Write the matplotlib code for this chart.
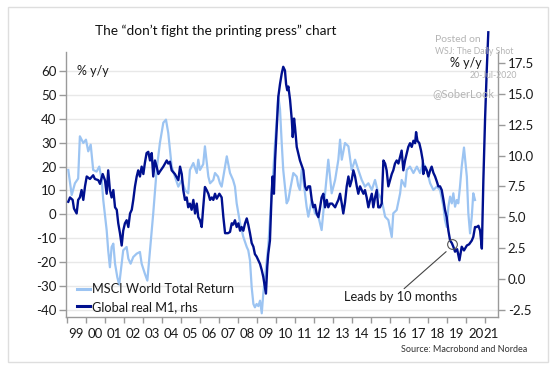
import matplotlib
matplotlib.use("Agg")
import matplotlib.pyplot as plt
from matplotlib.patches import Rectangle
from matplotlib.lines import Line2D

plt.rcParams['font.family'] = ['Lato', 'DejaVu Sans']

# ---------------- data ----------------
msci_t = [
    1999.07, 1999.25, 1999.42, 1999.59, 1999.68, 1999.86, 2000.00, 2000.12, 2000.25, 2000.38,
    2000.56, 2000.70, 2000.83, 2000.91, 2001.09, 2001.17, 2001.26, 2001.35, 2001.44, 2001.53,
    2001.65, 2001.75, 2001.88, 2001.96, 2002.14, 2002.23, 2002.35, 2002.49, 2002.67, 2002.84,
    2002.93, 2003.10, 2003.23, 2003.37, 2003.54, 2003.72, 2003.89, 2004.07, 2004.21, 2004.33,
    2004.51, 2004.68, 2004.86, 2005.04, 2005.21, 2005.38, 2005.47, 2005.65, 2005.83, 2005.91,
    2006.00, 2006.17, 2006.26, 2006.44, 2006.53, 2006.70, 2006.79, 2006.95, 2007.05, 2007.14,
    2007.32, 2007.41, 2007.58, 2007.74, 2007.84, 2007.93, 2008.02, 2008.11, 2008.28, 2008.46,
    2008.54, 2008.63, 2008.72, 2008.81, 2008.89, 2008.98, 2009.07, 2009.16, 2009.25, 2009.33,
    2009.42, 2009.51, 2009.59, 2009.68, 2009.77, 2009.86, 2009.95, 2010.04, 2010.12, 2010.21,
    2010.30, 2010.38, 2010.47, 2010.56, 2010.65, 2010.74, 2010.91, 2011.09, 2011.17, 2011.26,
    2011.35, 2011.44, 2011.61, 2011.70, 2011.88, 2012.05, 2012.23, 2012.40, 2012.58, 2012.75,
    2012.84, 2012.93, 2013.11, 2013.28, 2013.37, 2013.46, 2013.63, 2013.81, 2013.98, 2014.16,
    2014.33, 2014.51, 2014.68, 2014.86, 2015.04, 2015.21, 2015.38, 2015.56, 2015.74, 2015.91,
    2016.09, 2016.17, 2016.35, 2016.53, 2016.61, 2016.79, 2016.88, 2017.05, 2017.23, 2017.41,
    2017.58, 2017.75, 2017.93, 2018.11, 2018.28, 2018.46, 2018.63, 2018.81, 2018.89, 2018.98,
    2019.07, 2019.16, 2019.25, 2019.33, 2019.42, 2019.51, 2019.59, 2019.68, 2019.77, 2019.89,
    2020.04, 2020.12, 2020.21, 2020.30, 2020.38, 2020.47]
msci_v = [
    18.6, 8.1, 13, 15, 32.7, 29.9, 31.3, 26.4, 29.2, 18.6,
    17.9, 20, 14.4, 6, -6.7, -15.1, -22.2, -13.7, -12.3, -20.7,
    -26.4, -29.5, -20.7, -15.1, -13.7, -18.6, -20.7, -17.9, -16.5, -15.8,
    -20.7, -24.9, -27.8, -15.1, 0.4, 18.6, 29.9, 38.4, 39.7, 34.1,
    20, 15.8, 11.6, 14.4, 10.2, 8.8, 18.6, 21.5, 17.3, 22.9,
    18.6, 21, 28.5, 15.8, 13, 14.4, 17.3, 15.8, 13, 11.6,
    20, 24.3, 17.3, 14.4, 11.6, 4.6, 0.4, -3.8, -9.5, -13.7,
    -15.1, -19.3, -30.6, -37.6, -39, -37.6, -38.5, -36.2, -41.5, -33.3,
    -26.4, -19.3, -13.7, -2.4, 8.8, 18.6, 29.9, 39.7, 49.6, 44,
    29.9, 18.6, 11.6, 4.6, 6, 10.2, 17.3, 15.8, 12, 10.2,
    18.6, 14.4, 3.2, -1, 6, 0.4, -1, -6.6, 8.8, 22.9,
    15.8, 8.8, 14.4, 22.9, 31.3, 22.9, 29.9, 28.5, 18.6, 22.9,
    18.6, 14.4, 11.6, 13, 10.2, 14.4, 8.8, 6, -1, -2.4,
    -9.5, 0.4, 1.8, 8.8, 14.4, 11.6, 18.6, 20, 17.3, 20,
    17.3, 21.5, 18.6, 13, 10.2, 11.6, 10.2, 3.2, -2.4, -5.3,
    3.2, 7.4, 4.6, 8.8, 3.2, 6, 4.6, 11.6, 20, 28,
    15.8, 0.4, -8, -1, 8.8, 6]

m1_t = [
    1999.07, 1999.16, 1999.30, 1999.37, 1999.51, 1999.59, 1999.68, 1999.77, 1999.86, 1999.95,
    2000.04, 2000.21, 2000.38, 2000.47, 2000.65, 2000.74, 2000.88, 2001.00, 2001.09, 2001.17,
    2001.26, 2001.35, 2001.44, 2001.53, 2001.62, 2001.70, 2001.79, 2001.88, 2001.96, 2002.05,
    2002.14, 2002.23, 2002.32, 2002.41, 2002.49, 2002.58, 2002.67, 2002.75, 2002.84, 2002.93,
    2003.02, 2003.10, 2003.19, 2003.28, 2003.37, 2003.46, 2003.54, 2003.63, 2003.72, 2003.81,
    2003.89, 2004.07, 2004.25, 2004.33, 2004.42, 2004.51, 2004.68, 2004.86, 2004.95, 2005.04,
    2005.12, 2005.21, 2005.30, 2005.38, 2005.47, 2005.56, 2005.65, 2005.74, 2005.83, 2005.91,
    2006.00, 2006.09, 2006.17, 2006.26, 2006.35, 2006.44, 2006.53, 2006.62, 2006.70, 2006.79,
    2006.88, 2007.02, 2007.14, 2007.23, 2007.32, 2007.47, 2007.58, 2007.67, 2007.75, 2007.84,
    2007.93, 2008.02, 2008.11, 2008.19, 2008.28, 2008.37, 2008.46, 2008.54, 2008.63, 2008.72,
    2008.81, 2008.89, 2008.98, 2009.07, 2009.16, 2009.25, 2009.33, 2009.42, 2009.47, 2009.54,
    2009.59, 2009.68, 2009.77, 2009.82, 2009.89, 2009.95, 2010.04, 2010.12, 2010.21, 2010.30,
    2010.38, 2010.47, 2010.53, 2010.59, 2010.65, 2010.74, 2010.83, 2010.88, 2010.95, 2011.00,
    2011.09, 2011.17, 2011.26, 2011.44, 2011.53, 2011.61, 2011.70, 2011.79, 2011.88, 2011.96,
    2012.05, 2012.14, 2012.23, 2012.32, 2012.40, 2012.49, 2012.58, 2012.67, 2012.75, 2012.84,
    2012.95, 2013.11, 2013.19, 2013.28, 2013.37, 2013.46, 2013.54, 2013.63, 2013.72, 2013.81,
    2013.89, 2013.98, 2014.07, 2014.16, 2014.25, 2014.33, 2014.42, 2014.51, 2014.60, 2014.68,
    2014.77, 2014.86, 2014.95, 2015.04, 2015.12, 2015.21, 2015.30, 2015.38, 2015.47, 2015.56,
    2015.65, 2015.74, 2015.82, 2015.91, 2016.00, 2016.09, 2016.17, 2016.26, 2016.35, 2016.44,
    2016.53, 2016.61, 2016.70, 2016.79, 2016.88, 2016.96, 2017.05, 2017.14, 2017.23, 2017.32,
    2017.37, 2017.44, 2017.54, 2017.63, 2017.72, 2017.75, 2017.84, 2017.93, 2018.02, 2018.11,
    2018.19, 2018.28, 2018.37, 2018.46, 2018.54, 2018.63, 2018.72, 2018.81, 2018.89, 2018.98,
    2019.07, 2019.16, 2019.25, 2019.33, 2019.42, 2019.53, 2019.65, 2019.77, 2019.89, 2020.04,
    2020.16, 2020.30, 2020.38, 2020.47, 2020.56, 2020.65, 2020.74, 2020.83, 2020.91, 2021.00,
    2021.09, 2021.17]
m1_v = [
    6.25, 6.6, 6.4, 5.7, 5.3, 6.4, 6.6, 7.2, 6.4, 7.5,
    8.3, 8.1, 8.4, 8.1, 8.0, 7.7, 8.5, 8.0, 6.9, 8.8,
    7.2, 6.6, 7.2, 5.8, 5.6, 4.5, 3.7, 2.7, 3.9, 4.5,
    4.75, 4.2, 5.3, 5.6, 6.4, 7.5, 8.3, 8.8, 8.3, 9.1,
    8.5, 9.4, 10.2, 10.3, 9.6, 10.2, 8.3, 9.6, 9.1, 8.5,
    8.7, 9.1, 9.6, 9.35, 9.5, 8.8, 8.5, 8.0, 9.1, 8.5,
    7.2, 6.4, 6.6, 5.8, 6.1, 5.6, 6.4, 5.3, 6.1, 5.0,
    4.75, 4.2, 5.8, 7.45, 7.2, 6.9, 6.4, 6.6, 6.4, 6.9,
    6.5, 6.9, 6.6, 5.0, 3.7, 3.7, 3.8, 4.5, 4.4, 4.75,
    4.2, 4.5, 3.9, 4.2, 3.9, 4.5, 4.9, 4.4, 3.7, 2.9,
    2.6, 2.0, 1.8, 1.5, 1.2, 0.7, 0.15, -0.7, -1.2, 1.0,
    2.0, 3.1, 6.9, 8.3, 6.9, 9.6, 12.3, 14.75, 15.8, 16.65,
    17.2, 16.9, 15.8, 15.3, 15.6, 14.5, 12.9, 11.5, 13.0, 12.3,
    10.7, 10.2, 9.6, 8.8, 7.5, 7.2, 7.5, 7.5, 6.4, 5.8,
    6.0, 5.3, 5.0, 5.8, 6.6, 6.9, 5.8, 6.4, 5.8, 6.1,
    6.1, 5.8, 6.1, 6.4, 6.9, 6.1, 5.3, 6.2, 7.5, 8.3,
    7.5, 8.0, 8.8, 8.3, 7.5, 6.9, 7.5, 7.2, 6.9, 7.2,
    6.6, 5.8, 6.4, 6.9, 5.8, 6.6, 7.2, 5.8, 5.8, 6.1,
    9.6, 9.35, 8.8, 7.5, 8.0, 8.5, 8.8, 9.35, 9.6, 9.35,
    9.9, 10.4, 8.8, 9.6, 10.2, 10.7, 11.0, 10.7, 11.2, 11.0,
    11.9, 11.2, 11.0, 10.4, 9.6, 8.5, 9.1, 8.8, 8.3, 8.8,
    9.1, 8.6, 8.3, 7.9, 7.5, 7.5, 7.2, 6.4, 5.6, 5.0,
    3.9, 3.1, 2.9, 2.6, 2.2, 2.4, 1.5, 2.6, 2.3, 2.7,
    2.8, 3.1, 3.4, 4.2, 4.2, 4.3, 3.9, 2.45, 8.0, 13.0,
    17.0, 20.0]

years = list(range(1999, 2022))
year_labels = ['99', '00', '01', '02', '03', '04', '05', '06', '07', '08', '09', '10',
               '11', '12', '13', '14', '15', '16', '17', '18', '19', '20', '21']
left_ticks = [60, 50, 40, 30, 20, 10, 0, -10, -20, -30, -40]
right_ticks = [17.5, 15.0, 12.5, 10.0, 7.5, 5.0, 2.5, 0.0, -2.5]

series_names = ['MSCI World Total Return', 'Global real M1, rhs']
annot_point = (2019.26, 2.8)
annot_text_pos = (2016.58, -1.5)

# ---------------- styling ----------------
LIGHT = '#9cc4f2'
NAVY = '#00108f'
SPINE = '#9a9a9a'
GRID = '#e8e8e8'
TXT = '#1a1a1a'

W, H = 559, 368
fig = plt.figure(figsize=(W / 100, H / 100), dpi=100)
fig.patch.set_facecolor('white')

# outer frame
fig.patches.append(Rectangle((8 / W, 1 - 362 / H), (548 - 8) / W, (362 - 7) / H,
                             transform=fig.transFigure, fill=False,
                             ec='#dedede', lw=1.0))

ax_l, ax_r, ax_b, ax_t = 66, 498, 317, 52
ax1 = fig.add_axes([ax_l / W, 1 - ax_b / H, (ax_r - ax_l) / W, (ax_b - ax_t) / H])
ax2 = ax1.twinx()

xmin, xmax = 1998.95, 2021.68
ax1.set_xlim(xmin, xmax)
ax1.set_ylim(-43.06, 68.05)
ax2.set_ylim(-3.1, 18.4)

ax1.plot(msci_t, msci_v, color=LIGHT, lw=1.6, solid_joinstyle='round', zorder=3)
ax2.plot(m1_t, m1_v, color=NAVY, lw=1.7, solid_joinstyle='round', zorder=4,
         clip_on=False)
ax2.set_ylim(-3.1, 18.4)

# grid from left axis
ax1.set_yticks(left_ticks)
ax1.set_yticklabels([str(v) for v in left_ticks])
ax1.yaxis.grid(True, color=GRID, lw=1.0)
ax1.set_axisbelow(True)
ax2.set_yticks(right_ticks)
ax2.set_yticklabels([f'{v:.1f}' for v in right_ticks])

# x ticks: marks at year boundaries, labels centred in year intervals
ax1.set_xticks(years)
ax1.set_xticklabels([''] * len(years))
mids = [(max(y, xmin) + min(y + 1, xmax)) / 2 for y in years]
ax1.set_xticks(mids, minor=True)
ax1.set_xticklabels(year_labels, minor=True)
ax1.tick_params(axis='x', which='minor', length=0, pad=8, labelsize=9.5, colors=TXT)
ax1.tick_params(axis='x', which='major', length=4, width=1, color=SPINE)

for a in (ax1, ax2):
    for s in a.spines.values():
        s.set_color(SPINE)
        s.set_linewidth(1.0)
    a.spines['top'].set_visible(False)
ax1.spines['right'].set_visible(False)
ax2.spines['left'].set_visible(False)
ax2.spines['bottom'].set_visible(False)

ax1.tick_params(axis='y', length=5, width=1, color=SPINE, labelsize=9.5,
                labelcolor=TXT, pad=2)
ax2.tick_params(axis='y', length=5, width=1, color=SPINE, labelsize=9.5,
                labelcolor=TXT, pad=2)

# unit labels
ax1.text(0.025, 60, '% y/y', transform=ax1.get_yaxis_transform(),
         fontsize=9, color=TXT, va='center', ha='left')
ax2.text(0.963, 17.5, '% y/y', transform=ax2.get_yaxis_transform(),
         fontsize=9, color=TXT, va='center', ha='right', zorder=6)

# legend
handles = [Line2D([], [], color=LIGHT, lw=2.2), Line2D([], [], color=NAVY, lw=2.2)]
fig.legend(handles, series_names, loc='upper left',
           bbox_to_anchor=(77 / W, 1 - 283 / H), frameon=False, fontsize=9.2,
           handlelength=1.0, handletextpad=0.15, labelspacing=0.45,
           borderpad=0, borderaxespad=0, labelcolor=TXT)

# annotation
ax2.plot([annot_point[0]], [annot_point[1]], marker='o', ms=7, mfc='none',
         mec='#555555', mew=0.8, zorder=5)
ax2.annotate('', xy=(annot_point[0] - 0.2, annot_point[1] - 0.45),
             xytext=(annot_text_pos[0] + 0.05, annot_text_pos[1] + 0.55),
             arrowprops=dict(arrowstyle='-', color='#444444', lw=0.8))
ax2.text(annot_text_pos[0], annot_text_pos[1], 'Leads by 10 months', fontsize=9.3,
         color=TXT, ha='center', va='center')

# title and source
fig.text(95 / W, 1 - 31 / H, 'The \u201cdon\u2019t fight the printing press\u201d chart',
         fontsize=9.8, color='#111111', ha='left', va='center')
fig.text(527 / W, 1 - 349 / H, 'Source: Macrobond and Nordea', fontsize=6.5,
         color='#333333', ha='right', va='center')

# watermark
wm = '#b4b4b4'
fig.text(435 / W, 1 - 40 / H, 'Posted on', fontsize=7.5, color=wm, ha='left', va='center')
fig.text(435 / W, 1 - 51 / H, 'WSJ: The Daily Shot', fontsize=6.3, color=wm, ha='left',
         va='center')
fig.text(517 / W, 1 - 75 / H, '20-Jul-2020', fontsize=6.3, color=wm, ha='right', va='center')
fig.text(432 / W, 1 - 94 / H, '@SoberLook', fontsize=8, color=wm, ha='left', va='center')

fig.savefig('out.png', dpi=100, facecolor='white')
